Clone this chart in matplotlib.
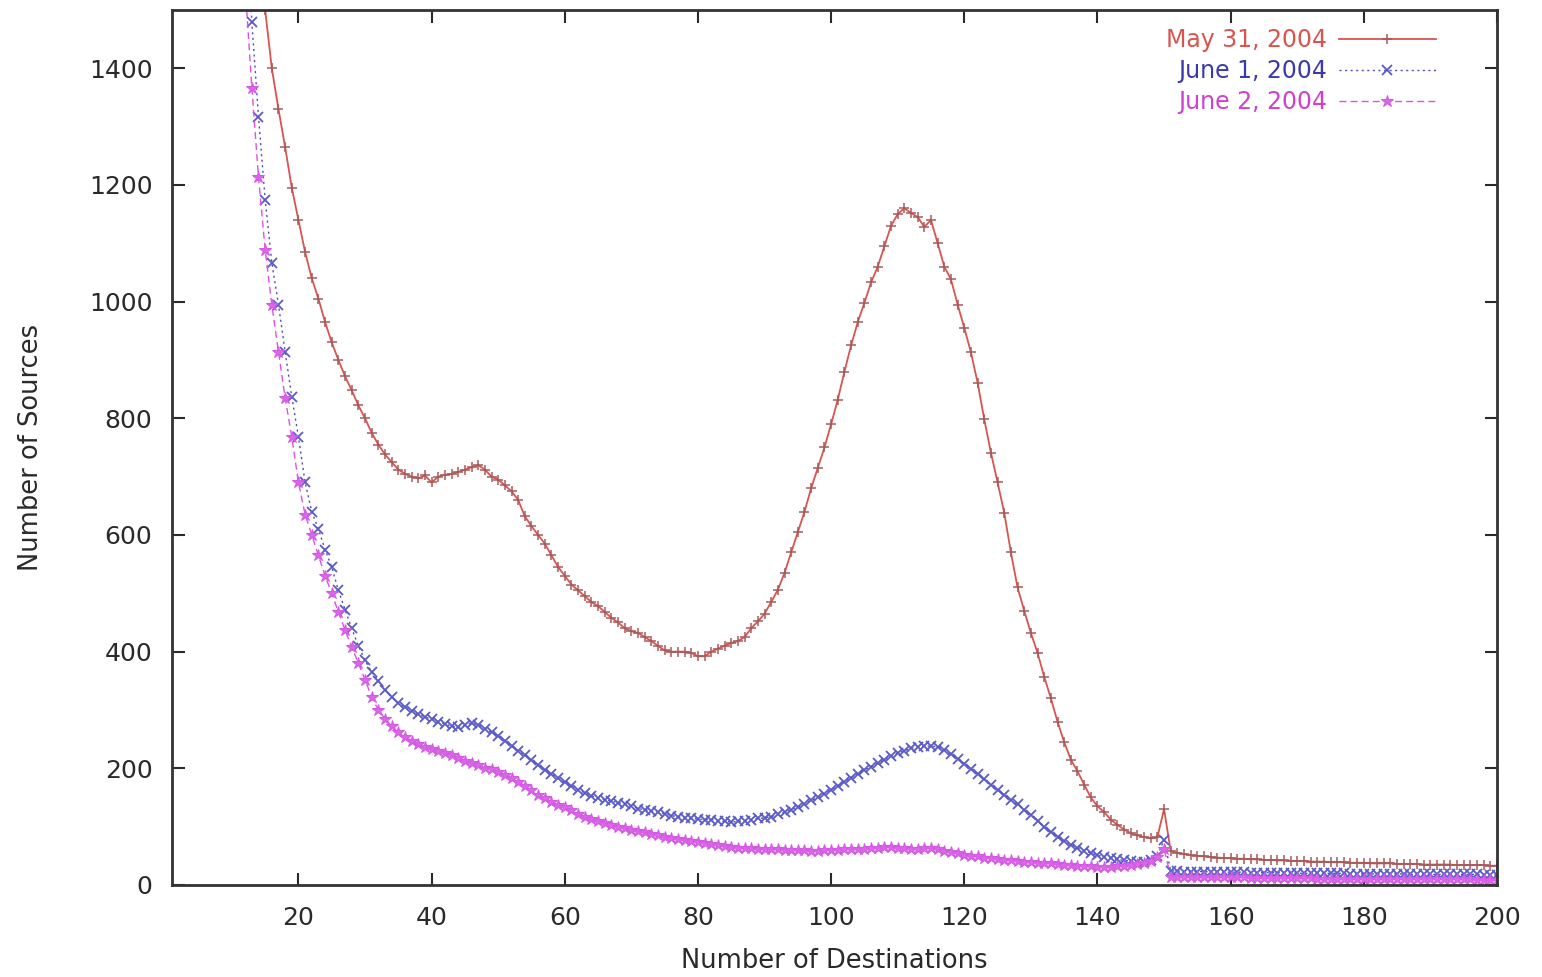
import numpy as np
import matplotlib
matplotlib.use("Agg")
import matplotlib.pyplot as plt

plt.rcParams['font.family'] = ['DejaVu Sans']

# Number of Destinations -> Number of Sources, one value per destination count
may31_x = np.arange(14, 201)
may31_y = [
    1620, 1500, 1400, 1330, 1265, 1195, 1140, 1085, 1040, 1005,          # 14-23
    965, 930, 900, 872, 848, 822, 800, 775, 755, 738,                    # 24-33
    725, 712, 705, 700, 697, 702, 690, 700, 703, 705,                    # 34-43
    708, 712, 716, 720, 712, 700, 695, 685, 675, 660,                    # 44-53
    632, 615, 600, 585, 565, 545, 530, 515, 505, 495,                    # 54-63
    485, 478, 468, 458, 450, 440, 435, 432, 425, 418,                    # 64-73
    410, 402, 400, 400, 400, 398, 392, 392, 400, 405,                    # 74-83
    410, 415, 418, 425, 440, 452, 465, 485, 506, 535,                    # 84-93
    570, 605, 640, 680, 715, 750, 790, 832, 880, 925,                    # 94-103
    965, 998, 1033, 1060, 1095, 1130, 1150, 1160, 1152, 1145,            # 104-113
    1128, 1140, 1100, 1060, 1038, 995, 955, 913, 861, 798,               # 114-123
    741, 690, 638, 570, 510, 470, 432, 398, 357, 320,                    # 124-133
    280, 245, 215, 195, 172, 150, 135, 125, 112, 103,                    # 134-143
    95, 89, 85, 82, 80, 82, 130, 58,                                     # 144-151
    55, 53, 51, 50, 49, 48, 47, 46, 46,                                  # 152-160
    45, 45, 44, 44, 43, 43, 42, 42, 41, 41,                              # 161-170
    41, 40, 40, 40, 39, 39, 39, 38, 38, 38,                              # 171-180
    37, 37, 37, 37, 36, 36, 36, 36, 35, 35,                              # 181-190
    35, 35, 35, 34, 34, 34, 34, 34, 33, 33,                              # 191-200
]

june1_x = np.arange(12, 201)
june1_y = [
    1700, 1479, 1317, 1175, 1067, 995, 914, 837, 768, 690,               # 12-21
    640, 610, 575, 545, 505, 472, 440, 410, 385, 365,                    # 22-31
    350, 335, 322, 312, 305, 298, 293, 288, 284, 280,                    # 32-41
    276, 272, 270, 274, 278, 274, 268, 262, 255, 247,                    # 42-51
    238, 230, 222, 214, 205, 197, 190, 183, 176, 169,                    # 52-61
    163, 158, 153, 149, 146, 144, 141, 139, 135, 131,                    # 62-71
    129, 127, 125, 122, 119, 117, 115, 114, 113, 112,                    # 72-81
    112, 110, 109, 108, 109, 110, 112, 114, 115, 117,                    # 82-91
    121, 125, 129, 134, 139, 145, 150, 156, 163, 170,                    # 92-101
    177, 184, 191, 197, 203, 209, 215, 221, 226, 230,                    # 102-111
    234, 237, 238, 238, 237, 232, 224, 216, 208, 199,                    # 112-121
    190, 181, 172, 163, 154, 146, 138, 129, 120, 110,                    # 122-131
    100, 90, 82, 75, 69, 64, 59, 55, 51, 48,                             # 132-141
    46, 44, 42, 41, 40, 40, 42, 50, 77, 24,                              # 142-151
    24, 23, 23, 23, 23, 22, 22, 22, 22,                                  # 152-160
    22, 22, 21, 21, 21, 21, 21, 21, 21, 20,                              # 161-170
    20, 20, 20, 20, 20, 20, 20, 19, 19, 19,                              # 171-180
    19, 19, 19, 19, 19, 19, 18, 18, 18, 18,                              # 181-190
    18, 18, 18, 18, 18, 18, 18, 17, 17, 17,                              # 191-200
]

june2_x = np.arange(12, 201)
june2_y = [
    1540, 1367, 1213, 1089, 995, 914, 835, 768, 690, 635,                # 12-21
    600, 565, 530, 500, 468, 437, 408, 380, 352, 322,                    # 22-31
    300, 285, 272, 262, 254, 247, 242, 237, 233, 229,                    # 32-41
    226, 222, 218, 213, 209, 205, 201, 198, 194, 189,                    # 42-51
    183, 177, 170, 162, 155, 149, 143, 137, 133, 128,                    # 52-61
    122, 117, 113, 109, 106, 103, 100, 97, 94, 92,                       # 62-71
    90, 88, 85, 82, 80, 78, 77, 75, 73, 72,                              # 72-81
    70, 68, 67, 65, 64, 63, 63, 62, 62, 61,                              # 82-91
    61, 60, 60, 60, 60, 59, 59, 60, 60, 60,                              # 92-101
    61, 61, 62, 62, 63, 64, 65, 65, 64, 63,                              # 102-111
    62, 62, 63, 63, 61, 59, 57, 54, 52, 50,                              # 112-121
    49, 47, 46, 45, 43, 42, 41, 40, 39, 38,                              # 122-131
    37, 37, 36, 35, 34, 33, 32, 32, 31, 31,                              # 132-141
    31, 32, 33, 34, 36, 38, 41, 48, 62, 14,                              # 142-151
    14, 14, 14, 13, 13, 13, 13, 13, 13,                                  # 152-160
    13, 13, 12, 12, 12, 12, 12, 12, 12, 12,                              # 161-170
    12, 12, 11, 11, 11, 11, 11, 11, 11, 11,                              # 171-180
    11, 11, 11, 10, 10, 10, 10, 10, 10, 10,                              # 181-190
    10, 10, 10, 10, 10, 10, 9, 9, 9, 9,                                  # 191-200
]

labels = ["May 31, 2004", "June 1, 2004", "June 2, 2004"]
x_ticks = list(range(20, 201, 20))
y_ticks = list(range(0, 1401, 200))

RED = "#d9544f"
BLUE = "#4b4bc4"
MAGENTA = "#e050e0"
TXT = "#2a2a2a"

fig = plt.figure(figsize=(15.42, 9.77), dpi=100)
ax = fig.add_axes([0.1115, 0.0942, 0.8593, 0.8956])

ax.plot(may31_x, may31_y, color=RED, lw=1.3, marker='+', ms=7, mew=1.1,
        mec="#a85a5a", label=labels[0])
ax.plot(june1_x, june1_y, color=BLUE, lw=1.0, ls=(0, (1.5, 2.5)), marker='x',
        ms=7.5, mew=1.3, mec="#5a5ac8", label=labels[1])
ax.plot(june2_x, june2_y, color=MAGENTA, lw=1.0, ls=(0, (5, 3)), marker='*',
        ms=9, mew=0.8, mec="#d458e4", mfc="#dc66ea", label=labels[2])

ax.set_xlim(1, 200)
ax.set_ylim(0, 1500)
ax.set_xticks(x_ticks)
ax.set_yticks(y_ticks)
ax.tick_params(direction='in', length=9, width=1.5, labelsize=18,
               colors=TXT, top=True, right=True)
ax.tick_params(axis='y', pad=14)
ax.tick_params(axis='x', pad=15)
for s in ax.spines.values():
    s.set_linewidth(2)
    s.set_color('#333333')

ax.set_xlabel("Number of Destinations", fontsize=18.5, color=TXT, labelpad=13)
ax.set_ylabel("Number of Sources", fontsize=18.5, color=TXT, labelpad=32)

leg = ax.legend(loc='upper right', bbox_to_anchor=(0.931, 0.971),
                bbox_transform=fig.transFigure, frameon=False, markerfirst=False,
                fontsize=17, handlelength=4.1, handletextpad=0.5,
                labelspacing=0.3, borderaxespad=0, borderpad=0, numpoints=1,
                labelcolor=[RED, "#3a3aae", "#d040d0"])

fig.savefig("out.png", dpi=100, facecolor='white')
